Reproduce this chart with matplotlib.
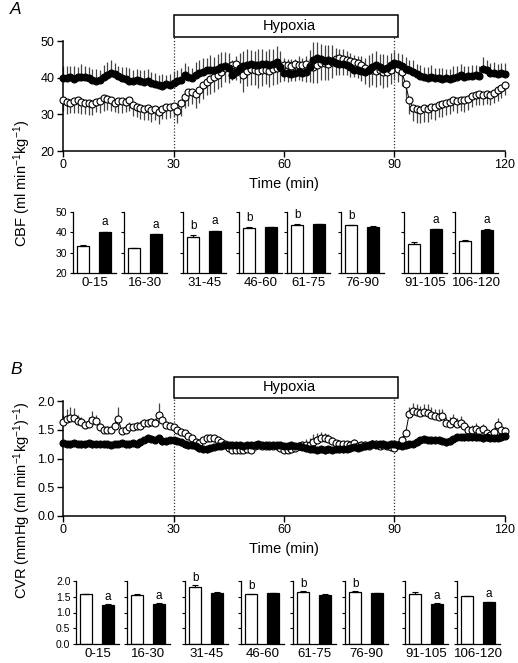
import numpy as np
import matplotlib
matplotlib.use("Agg")
import matplotlib.pyplot as plt
import matplotlib.transforms as mtransforms

plt.rcParams['font.family'] = ['Liberation Sans', 'DejaVu Sans']
plt.rcParams['mathtext.fontset'] = 'custom'
plt.rcParams['mathtext.rm'] = 'Liberation Sans'
plt.rcParams['mathtext.it'] = 'Liberation Sans:italic'
plt.rcParams['mathtext.bf'] = 'Liberation Sans:bold'

# ---- data ----
minutes = np.arange(0, 121)

# CBF (ml min-1 kg-1), filled = black, open = white
cbf_black = [
    40.0, 39.8, 40.2, 39.7, 40.1, 40.3, 40.2, 39.9, 39.5, 39.2, 39.4,
    40.2, 40.8, 41.2, 41.0, 40.4, 39.8, 39.6, 39.2, 39.0, 39.3,
    39.1, 38.8, 39.0, 38.6, 38.2, 38.0, 37.8, 38.2, 38.0, 38.6,
    39.2, 39.5, 40.7, 40.2, 39.8, 40.6, 41.4, 41.6, 42.0, 42.2,
    42.0, 42.4, 42.8, 43.2, 42.6, 40.8, 41.5, 42.6, 43.2, 43.4,
    43.6, 43.4, 43.5, 43.8, 43.6, 43.4, 43.8, 44.3, 43.0, 41.4,
    41.2, 41.0, 41.2, 41.5, 41.3, 41.6, 43.0, 44.8, 45.3, 45.0,
    44.6, 44.8, 44.5, 44.0, 43.8, 43.6, 43.4, 42.8, 42.2, 42.0,
    41.8, 41.6, 42.2, 43.0, 43.5, 43.0, 42.5, 42.6, 43.4, 43.9,
    43.8, 43.2, 42.4, 42.0, 41.6, 41.0, 40.4, 40.2, 40.0, 40.3,
    40.0, 39.8, 39.7, 39.8, 39.6, 40.0, 40.3, 40.6, 40.2, 40.5,
    40.4, 40.6, 40.5, 42.5, 42.0, 41.4, 41.2, 41.0, 41.3, 41.0,
]
cbf_black_err = [
    3.2, 3.5, 3.0, 3.4, 2.8, 3.3, 3.1, 2.9, 3.0, 3.2, 2.7,
    3.3, 3.5, 3.6, 3.0, 2.9, 3.1, 3.3, 3.4, 3.2, 3.0,
    3.1, 3.4, 3.3, 2.9, 3.0, 2.8, 3.1, 2.6, 2.9, 3.2,
    3.0, 3.2, 3.4, 3.1, 2.9, 3.6, 3.3, 3.8, 3.5, 3.9,
    3.7, 4.0, 4.1, 3.8, 4.2, 3.9, 4.3, 4.0, 4.1, 4.4,
    4.0, 3.9, 4.2, 4.1, 3.8, 4.3, 4.0, 4.4, 4.2, 4.0,
    3.9, 4.2, 4.0, 4.3, 4.1, 4.4, 4.6, 4.8, 4.5, 4.2,
    4.3, 4.0, 4.4, 4.1, 3.9, 4.2, 4.0, 3.8, 4.1, 3.9,
    4.2, 3.7, 4.0, 3.6, 3.8, 3.5, 3.9, 3.6, 3.4, 3.3,
    3.0, 3.2, 3.3, 2.9, 3.1, 2.8, 3.0, 2.7, 2.9, 3.1,
    2.6, 2.8, 3.0, 2.7, 2.9, 3.1, 2.8, 3.0, 2.9, 2.7,
    3.1, 2.8, 2.6, 3.2, 2.9, 2.7, 3.0, 2.8, 2.6, 2.9,
]
cbf_open = [
    33.9, 33.4, 33.2, 33.5, 33.8, 33.3, 33.0, 33.1, 32.9, 33.4, 33.5,
    34.4, 34.2, 34.0, 33.2, 33.5, 33.6, 33.4, 33.9, 32.6, 32.1,
    31.8, 31.4, 31.6, 31.2, 31.5, 30.7, 31.4, 31.9, 32.1, 32.4,
    30.9, 33.0, 34.8, 36.0, 36.2, 35.5, 36.6, 38.0, 38.9, 39.6,
    40.2, 40.7, 41.6, 42.7, 43.0, 43.5, 43.6, 42.5, 40.7, 41.8,
    42.5, 42.0, 41.8, 42.0, 42.2, 41.9, 42.3, 42.6, 43.0, 43.4,
    43.5, 43.2, 43.6, 43.5, 43.4, 43.6, 43.2, 43.0, 43.4, 43.9,
    44.0, 43.8, 44.4, 45.0, 45.3, 45.2, 44.8, 44.6, 44.4, 44.0,
    43.4, 42.6, 42.0, 42.2, 41.8, 42.0, 41.6, 41.6, 42.2, 43.6,
    42.5, 41.6, 38.2, 33.9, 31.8, 31.5, 31.3, 31.6, 31.4, 32.0,
    32.1, 32.5, 32.8, 33.0, 33.4, 33.9, 33.7, 34.0, 33.8, 34.2,
    35.0, 35.4, 35.6, 35.3, 35.6, 35.4, 35.8, 36.6, 37.2, 38.0,
]
cbf_open_err = [
    3.0, 3.4, 2.9, 3.2, 3.5, 3.1, 2.8, 3.3, 3.0, 2.9, 3.2,
    3.4, 3.1, 3.0, 2.7, 3.2, 3.3, 2.9, 3.1, 3.0, 2.8,
    3.2, 2.9, 3.1, 3.3, 3.0, 3.4, 2.8, 3.1, 3.2, 3.0,
    3.3, 3.5, 3.2, 3.6, 3.4, 3.8, 3.5, 3.9, 3.6, 4.0,
    4.1, 3.8, 4.2, 4.0, 4.4, 4.1, 4.3, 4.0, 4.5, 4.2,
    4.4, 4.1, 4.6, 4.3, 4.0, 4.5, 4.2, 4.4, 4.1, 4.3,
    4.6, 4.2, 4.5, 4.0, 4.4, 4.7, 4.3, 4.5, 4.8, 4.4,
    4.6, 4.3, 4.5, 4.2, 4.6, 4.4, 4.1, 4.5, 4.3, 4.0,
    4.4, 4.2, 4.5, 4.1, 4.3, 4.0, 4.4, 4.2, 3.9, 4.1,
    3.6, 3.8, 3.5, 3.9, 3.7, 4.0, 3.6, 3.8, 3.5, 3.4,
    3.6, 3.3, 3.5, 3.2, 3.4, 3.1, 3.3, 3.0, 3.2, 2.9,
    3.1, 2.8, 3.0, 2.7, 2.9, 2.8, 2.6, 2.9, 2.7, 2.8,
]

# CVR (mmHg (ml min-1 kg-1)-1)
cvr_black = [
    1.27, 1.26, 1.25, 1.27, 1.26, 1.25, 1.26, 1.27, 1.25, 1.26, 1.25,
    1.26, 1.25, 1.24, 1.26, 1.25, 1.27, 1.26, 1.25, 1.27, 1.26,
    1.28, 1.33, 1.36, 1.34, 1.33, 1.35, 1.31, 1.30, 1.33, 1.32,
    1.30, 1.28, 1.25, 1.23, 1.24, 1.22, 1.19, 1.17, 1.16, 1.18,
    1.20, 1.21, 1.22, 1.23, 1.23, 1.24, 1.23, 1.24, 1.22, 1.23,
    1.24, 1.23, 1.25, 1.24, 1.23, 1.22, 1.23, 1.24, 1.23, 1.22,
    1.22, 1.23, 1.21, 1.22, 1.20, 1.19, 1.17, 1.16, 1.15, 1.16,
    1.15, 1.16, 1.15, 1.17, 1.16, 1.17, 1.16, 1.18, 1.20, 1.19,
    1.20, 1.22, 1.24, 1.25, 1.24, 1.26, 1.25, 1.24, 1.26, 1.25,
    1.23, 1.22, 1.24, 1.25, 1.26, 1.28, 1.32, 1.34, 1.33, 1.32,
    1.33, 1.32, 1.31, 1.28, 1.30, 1.34, 1.37, 1.38, 1.37, 1.38,
    1.38, 1.37, 1.38, 1.36, 1.37, 1.36, 1.35, 1.36, 1.37, 1.40,
]
cvr_black_err = [
    0.06, 0.05, 0.07, 0.06, 0.05, 0.06, 0.07, 0.05, 0.06, 0.06, 0.05,
    0.06, 0.07, 0.05, 0.06, 0.05, 0.06, 0.07, 0.06, 0.05, 0.06,
    0.06, 0.05, 0.07, 0.06, 0.06, 0.05, 0.07, 0.06, 0.05, 0.06,
    0.05, 0.06, 0.07, 0.06, 0.05, 0.06, 0.07, 0.06, 0.06, 0.05,
    0.06, 0.05, 0.06, 0.07, 0.06, 0.05, 0.06, 0.06, 0.07, 0.05,
    0.06, 0.05, 0.06, 0.06, 0.07, 0.06, 0.05, 0.06, 0.06, 0.05,
    0.06, 0.07, 0.06, 0.05, 0.06, 0.07, 0.06, 0.05, 0.06, 0.06,
    0.07, 0.06, 0.05, 0.06, 0.06, 0.07, 0.05, 0.06, 0.06, 0.05,
    0.06, 0.07, 0.06, 0.05, 0.06, 0.06, 0.05, 0.07, 0.06, 0.06,
    0.05, 0.06, 0.07, 0.06, 0.05, 0.06, 0.06, 0.07, 0.05, 0.06,
    0.06, 0.05, 0.06, 0.07, 0.06, 0.05, 0.06, 0.06, 0.07, 0.05,
    0.06, 0.06, 0.05, 0.07, 0.06, 0.06, 0.05, 0.06, 0.07, 0.06,
]
cvr_open = [
    1.64, 1.68, 1.70, 1.70, 1.66, 1.64, 1.58, 1.60, 1.67, 1.66, 1.55,
    1.50, 1.49, 1.50, 1.57, 1.68, 1.47, 1.50, 1.55, 1.54, 1.56,
    1.57, 1.62, 1.62, 1.63, 1.61, 1.76, 1.67, 1.58, 1.56, 1.55,
    1.50, 1.46, 1.44, 1.40, 1.35, 1.29, 1.27, 1.32, 1.35, 1.36,
    1.35, 1.33, 1.29, 1.25, 1.18, 1.14, 1.15, 1.14, 1.15, 1.16,
    1.15, 1.22, 1.24, 1.21, 1.22, 1.23, 1.21, 1.22, 1.19, 1.15,
    1.15, 1.16, 1.19, 1.22, 1.23, 1.24, 1.23, 1.28, 1.33, 1.36,
    1.35, 1.34, 1.30, 1.27, 1.26, 1.25, 1.26, 1.24, 1.27, 1.22,
    1.24, 1.23, 1.21, 1.26, 1.25, 1.22, 1.24, 1.21, 1.20, 1.19,
    1.24, 1.33, 1.44, 1.78, 1.82, 1.81, 1.80, 1.81, 1.79, 1.76,
    1.74, 1.73, 1.74, 1.62, 1.60, 1.66, 1.60, 1.62, 1.56, 1.50,
    1.50, 1.52, 1.48, 1.52, 1.44, 1.41, 1.46, 1.58, 1.50, 1.47,
]
cvr_open_err = [
    0.12, 0.18, 0.20, 0.17, 0.10, 0.08, 0.06, 0.12, 0.15, 0.10, 0.06,
    0.05, 0.07, 0.06, 0.08, 0.22, 0.05, 0.06, 0.08, 0.06, 0.07,
    0.08, 0.06, 0.07, 0.08, 0.09, 0.20, 0.10, 0.06, 0.07, 0.05,
    0.06, 0.05, 0.04, 0.05, 0.04, 0.05, 0.04, 0.05, 0.06, 0.07,
    0.06, 0.05, 0.04, 0.05, 0.04, 0.03, 0.04, 0.03, 0.04, 0.03,
    0.04, 0.05, 0.04, 0.05, 0.04, 0.05, 0.04, 0.05, 0.04, 0.03,
    0.04, 0.05, 0.06, 0.05, 0.07, 0.10, 0.12, 0.14, 0.12, 0.10,
    0.09, 0.08, 0.07, 0.06, 0.07, 0.06, 0.05, 0.06, 0.07, 0.05,
    0.06, 0.07, 0.05, 0.06, 0.07, 0.06, 0.08, 0.06, 0.05, 0.05,
    0.06, 0.07, 0.08, 0.12, 0.15, 0.14, 0.12, 0.13, 0.15, 0.14,
    0.12, 0.13, 0.12, 0.10, 0.12, 0.11, 0.10, 0.12, 0.09, 0.08,
    0.08, 0.09, 0.07, 0.08, 0.07, 0.06, 0.08, 0.12, 0.09, 0.08,
]

# bar summaries
periods = ['0-15', '16-30', '31-45', '46-60', '61-75', '76-90', '91-105', '106-120']
cbf_bar_open = [33.5, 32.3, 37.8, 42.2, 43.7, 43.4, 34.2, 35.6]
cbf_bar_open_err = [0.2, 0.2, 0.8, 0.2, 0.3, 0.3, 1.0, 0.4]
cbf_bar_black = [40.2, 39.0, 40.6, 42.4, 43.9, 42.7, 41.4, 41.1]
cbf_bar_black_err = [0.2, 0.2, 0.3, 0.2, 0.2, 0.2, 0.3, 0.3]
cvr_bar_open = [1.59, 1.57, 1.82, 1.59, 1.66, 1.66, 1.60, 1.52]
cvr_bar_open_err = [0.01, 0.01, 0.04, 0.01, 0.02, 0.01, 0.04, 0.01]
cvr_bar_black = [1.25, 1.28, 1.63, 1.62, 1.57, 1.61, 1.28, 1.33]
cvr_bar_black_err = [0.01, 0.01, 0.01, 0.01, 0.01, 0.01, 0.01, 0.01]

cbf_open_letters = ['', '', 'b', 'b', 'b', 'b', '', '']
cbf_black_letters = ['a', 'a', 'a', '', '', '', 'a', 'a']
cvr_open_letters = ['', '', 'b', 'b', 'b', 'b', '', '']
cvr_black_letters = ['a', 'a', '', '', '', '', 'a', 'a']

W, H = 518, 663
fig = plt.figure(figsize=(W / 100, H / 100), dpi=100)


def px_axes(x0, y0, x1, y1):
    # pixel box (top-left origin) -> figure axes
    return fig.add_axes([x0 / W, 1 - y1 / H, (x1 - x0) / W, (y1 - y0) / H])


def style_spines(ax, lw=1.0):
    for s in ['top', 'right']:
        ax.spines[s].set_visible(False)
    for s in ['left', 'bottom']:
        ax.spines[s].set_linewidth(lw)


def time_panel(ax, black, black_err, opn, opn_err, black_up, ylim, yticks, yticklabels,
               box_y):
    zeros = np.zeros(len(minutes))
    eb_col = '#444444'
    if black_up:
        ax.errorbar(minutes, black, yerr=[zeros, black_err], fmt='none', ecolor=eb_col,
                    elinewidth=0.9, capsize=0, clip_on=False, zorder=1)
        ax.errorbar(minutes, opn, yerr=[opn_err, zeros], fmt='none', ecolor=eb_col,
                    elinewidth=0.9, capsize=0, clip_on=False, zorder=1)
    else:
        ax.errorbar(minutes, black, yerr=[black_err, zeros], fmt='none', ecolor=eb_col,
                    elinewidth=0.9, capsize=0, clip_on=False, zorder=1)
        ax.errorbar(minutes, opn, yerr=[zeros, opn_err], fmt='none', ecolor=eb_col,
                    elinewidth=0.9, capsize=0, clip_on=False, zorder=1)
    ax.plot(minutes, opn, '-o', color='black', lw=0.7, ms=5.0, mfc='white', mec='black',
            mew=0.8, clip_on=False, zorder=3)
    ax.plot(minutes, black, '-o', color='black', lw=0.7, ms=5.0, mfc='black', mec='black',
            mew=0.8, clip_on=False, zorder=4)

    ax.set_xlim(0, 120)
    ax.set_ylim(*ylim)
    ax.set_xticks([0, 30, 60, 90, 120])
    ax.set_yticks(yticks)
    ax.set_yticklabels(yticklabels)
    ax.tick_params(direction='out', length=4, width=1.0, labelsize=9, pad=2)
    style_spines(ax, 1.1)
    ax.set_xlabel('Time (min)', fontsize=10.5, labelpad=4)

    trans = mtransforms.blended_transform_factory(ax.transData, ax.transAxes)
    for xv in (30, 90):
        ax.plot([xv, xv], [0, box_y[0]], transform=trans, ls=(0, (1, 1.5)), lw=0.9,
                color='#333333', clip_on=False, zorder=0)
    rect = plt.Rectangle((30, box_y[0]), 61, box_y[1] - box_y[0], transform=trans,
                         fill=False, lw=1.1, ec='black', clip_on=False)
    ax.add_patch(rect)
    ax.text(61.5, (box_y[0] + box_y[1]) / 2, 'Hypoxia', transform=trans, fontsize=10.5,
            ha='center', va='center')


def bar_panels(lefts, y0, y1, opn, opn_err, black, black_err, opn_let, black_let,
               ylim, yticks, yticklabels, let_off):
    for i, lab in enumerate(periods):
        ax = px_axes(lefts[i], y0, lefts[i] + 43, y1)
        ax.bar([0.85], [opn[i]], width=1.0, color='white', edgecolor='black', lw=0.9,
               yerr=[[0], [opn_err[i]]], error_kw=dict(ecolor='black', elinewidth=0.8,
                                                       capsize=2, capthick=0.8))
        ax.bar([2.65], [black[i]], width=1.0, color='black', edgecolor='black', lw=0.9,
               yerr=[[0], [black_err[i]]], error_kw=dict(ecolor='black', elinewidth=0.8,
                                                         capsize=2, capthick=0.8))
        if opn_let[i]:
            ax.text(0.85, opn[i] + opn_err[i] + let_off, opn_let[i], ha='center',
                    va='bottom', fontsize=8.5)
        if black_let[i]:
            ax.text(2.65, black[i] + black_err[i] + let_off, black_let[i], ha='center',
                    va='bottom', fontsize=8.5)
        ax.set_xlim(0, 3.55)
        ax.set_ylim(*ylim)
        ax.set_xticks([])
        ax.set_yticks(yticks)
        if i == 0:
            ax.set_yticklabels(yticklabels)
        else:
            ax.set_yticklabels([])
        ax.tick_params(axis='y', direction='out', length=2.5, width=0.8, labelsize=7.5,
                       pad=1.5)
        style_spines(ax, 0.9)
        ax.set_xlabel(lab, fontsize=9.5, labelpad=3)


# ---- A ----
axA = px_axes(63, 41, 505, 151)
time_panel(axA, cbf_black, cbf_black_err, cbf_open, cbf_open_err, True,
           (20, 50), [20, 30, 40, 50], ['20', '30', '40', '50'], (1.036, 1.236))
bar_panels([73, 124, 183, 239, 287, 341, 404, 455], 212, 273,
           cbf_bar_open, cbf_bar_open_err, cbf_bar_black, cbf_bar_black_err,
           cbf_open_letters, cbf_black_letters, (20, 50),
           [20, 30, 40, 50], ['20', '30', '40', '50'], 1.5)
fig.text(10 / W, 1 - 10 / H, 'A', fontsize=12.5, style='italic', ha='left', va='center')
fig.text(22 / W, 1 - 183 / H, 'CBF (ml min$^{-1}$kg$^{-1}$)', rotation=90,
         fontsize=10.5, ha='center', va='center')

# ---- B ----
axB = px_axes(63, 401, 505, 516)
time_panel(axB, cvr_black, cvr_black_err, cvr_open, cvr_open_err, False,
           (0, 2.0), [0, 0.5, 1.0, 1.5, 2.0], ['0.0', '0.5', '1.0', '1.5', '2.0'],
           (1.026, 1.209))
bar_panels([76, 127, 185, 241, 293, 345, 405, 457], 581, 644,
           cvr_bar_open, cvr_bar_open_err, cvr_bar_black, cvr_bar_black_err,
           cvr_open_letters, cvr_black_letters, (0, 2.0),
           [0, 0.5, 1.0, 1.5, 2.0], ['0.0', '0.5', '1.0', '1.5', '2.0'], 0.05)
fig.text(10 / W, 1 - 370 / H, 'B', fontsize=12.5, style='italic', ha='left', va='center')
fig.text(22 / W, 1 - 500 / H, 'CVR (mmHg (ml min$^{-1}$kg$^{-1}$)$^{-1}$)', rotation=90,
         fontsize=10.5, ha='center', va='center')

fig.savefig('out.png', dpi=100)
